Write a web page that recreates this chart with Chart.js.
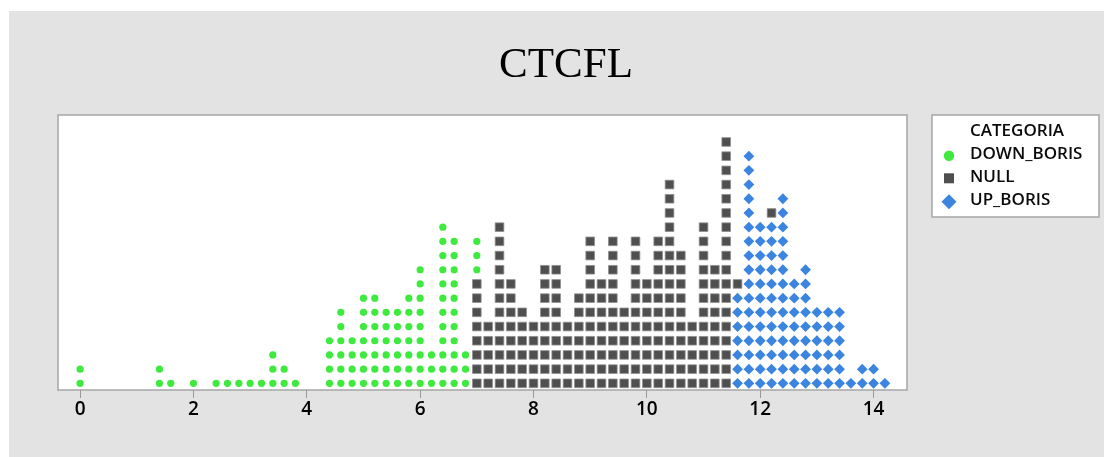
<!DOCTYPE html>
<html>
<head>
<meta charset="utf-8">
<title>CTCFL</title>
<script src="https://cdn.jsdelivr.net/npm/chart.js@4"></script>
<style>
  html, body { margin: 0; padding: 0; background: #fff; }
  #wrap { width: 1104px; height: 457px; }
</style>
</head>
<body>
<div id="wrap"><canvas id="c" width="1104" height="457"></canvas></div>
<script>
// ---- data: dot plot of CTCFL by CATEGORIA (bin centre -> number of dots) ----
const chartTitle = 'CTCFL';
const legendTitle = 'CATEGORIA';
const seriesNames = ['DOWN_BORIS', 'NULL', 'UP_BORIS'];

const downBins   = [0, 1.4, 1.6, 2.0, 2.4, 2.6, 2.8, 3.0, 3.2, 3.4, 3.6, 3.8,
                    4.4, 4.6, 4.8, 5.0, 5.2, 5.4, 5.6, 5.8, 6.0, 6.2, 6.4, 6.6, 6.8, 7.0];
const downCounts = [2, 2, 1, 1, 1, 1, 1, 1, 1, 3, 2, 1,
                    4, 6, 4, 7, 7, 6, 6, 7, 9, 3, 12, 11, 3, 3];

const nullBins   = [7.0, 7.2, 7.4, 7.6, 7.8, 8.0, 8.2, 8.4, 8.6, 8.8, 9.0, 9.2,
                    9.4, 9.6, 9.8, 10.0, 10.2, 10.4, 10.6, 10.8, 11.0, 11.2, 11.4, 11.6, 12.2];
const nullCounts = [8, 5, 12, 8, 6, 5, 9, 9, 5, 7, 11, 8,
                    11, 6, 11, 8, 11, 15, 10, 5, 12, 9, 18, 1, 1];

const upBins     = [11.6, 11.8, 12.0, 12.2, 12.4, 12.6, 12.8, 13.0, 13.2, 13.4, 13.6, 13.8, 14.0, 14.2];
const upCounts   = [7, 17, 12, 12, 14, 8, 9, 6, 6, 6, 1, 2, 2, 1];

const xTicks = [0, 2, 4, 6, 8, 10, 12, 14];

const colors = { down: '#3dea3d', nul: '#4f4f4f', up: '#3b84e0' };

// Dots in a shared bin are stacked: UP_BORIS first, then NULL, then DOWN_BORIS.
const stackHeight = {};
function stackDots(bins, counts) {
  const pts = [];
  bins.forEach((b, i) => {
    const key = b.toFixed(1);
    let h = stackHeight[key] || 0;
    for (let k = 0; k < counts[i]; k++) {
      h += 1;
      pts.push({ x: b, y: h });
    }
    stackHeight[key] = h;
  });
  return pts;
}
const upPts = stackDots(upBins, upCounts);
const nullPts = stackDots(nullBins, nullCounts);
const downPts = stackDots(downBins, downCounts);

// ---- page background, plot frame, title and legend ----
const decor = {
  id: 'decor',
  beforeDraw(chart) {
    const ctx = chart.ctx;
    const a = chart.chartArea;
    ctx.save();
    ctx.fillStyle = '#ffffff';
    ctx.fillRect(0, 0, chart.width, chart.height);
    ctx.fillStyle = '#e3e3e3';
    ctx.fillRect(9, 11, chart.width - 9, chart.height - 11);
    ctx.fillStyle = '#ffffff';
    ctx.fillRect(a.left, a.top, a.right - a.left, a.bottom - a.top);
    ctx.strokeStyle = '#a6a6a6';
    ctx.lineWidth = 1.5;
    ctx.strokeRect(a.left, a.top, a.right - a.left, a.bottom - a.top);

    // title
    ctx.fillStyle = '#000000';
    ctx.font = '43px "Liberation Serif", serif';
    ctx.textAlign = 'center';
    ctx.textBaseline = 'alphabetic';
    ctx.fillText(chartTitle, 566, 77);

    // legend box
    ctx.fillStyle = '#ffffff';
    ctx.fillRect(932, 115, 167, 102);
    ctx.strokeStyle = '#a6a6a6';
    ctx.lineWidth = 1.5;
    ctx.strokeRect(932, 115, 167, 102);

    ctx.fillStyle = '#0a0a0a';
    ctx.font = '600 17px "Open Sans", sans-serif';
    ctx.textAlign = 'left';
    ctx.fillText(legendTitle, 970, 135.5);
    ctx.fillText(seriesNames[0], 970, 158.5);
    ctx.fillText(seriesNames[1], 970, 181.5);
    ctx.fillText(seriesNames[2], 970, 205);

    // legend markers
    ctx.fillStyle = colors.down;
    ctx.beginPath();
    ctx.arc(949, 155.7, 5.2, 0, Math.PI * 2);
    ctx.fill();
    ctx.fillStyle = colors.nul;
    ctx.fillRect(944, 173.3, 10, 10);
    ctx.fillStyle = colors.up;
    ctx.beginPath();
    ctx.moveTo(949, 194.2);
    ctx.lineTo(956.5, 201.7);
    ctx.lineTo(949, 209.2);
    ctx.lineTo(941.5, 201.7);
    ctx.closePath();
    ctx.fill();
    ctx.restore();
  }
};

new Chart(document.getElementById('c'), {
  type: 'scatter',
  data: {
    datasets: [
      {
        label: seriesNames[2], data: upPts,
        pointStyle: 'rectRot', pointRadius: 5.4,
        backgroundColor: colors.up, borderWidth: 0
      },
      {
        label: seriesNames[1], data: nullPts,
        pointStyle: 'rect', pointRadius: 6.1,
        backgroundColor: colors.nul, borderColor: '#8e8e8e', borderWidth: 0.8
      },
      {
        label: seriesNames[0], data: downPts,
        pointStyle: 'circle', pointRadius: 3.6,
        backgroundColor: colors.down, borderWidth: 0
      }
    ]
  },
  options: {
    responsive: false,
    animation: false,
    devicePixelRatio: 1,
    events: [],
    layout: { padding: { left: 58, top: 115, right: 197, bottom: 0 } },
    plugins: { legend: { display: false }, tooltip: { enabled: false }, title: { display: false } },
    scales: {
      x: {
        type: 'linear',
        min: -0.39,
        max: 14.59,
        afterBuildTicks: (axis) => { axis.ticks = xTicks.map(v => ({ value: v })); },
        afterFit: (scale) => { scale.height = 67; },
        border: { display: false },
        grid: { drawOnChartArea: false, drawTicks: true, tickLength: 8, color: '#9a9a9a', lineWidth: 1 },
        ticks: {
          autoSkip: false, maxRotation: 0, padding: 0,
          color: '#000000',
          font: { family: '"Open Sans", sans-serif', size: 19, weight: '600' }
        }
      },
      y: { display: false, min: 0.53, max: 19.9 }
    }
  },
  plugins: [decor]
});
</script>
</body>
</html>
